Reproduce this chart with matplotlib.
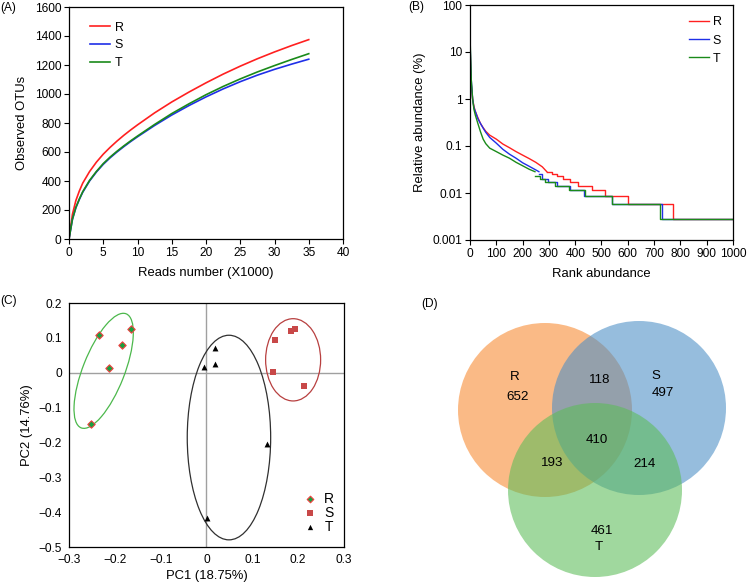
import numpy as np
import matplotlib
matplotlib.use("Agg")
import matplotlib.pyplot as plt
from matplotlib.patches import Ellipse, Circle
from matplotlib.transforms import Affine2D

plt.rcParams['font.family'] = ['Liberation Sans', 'DejaVu Sans']
plt.rcParams['font.size'] = 8.6
plt.rcParams['axes.linewidth'] = 0.9

# (A) rarefaction curves
reads_k = [0, 0.5, 1, 1.5, 2, 3, 4, 5, 6, 7, 8, 9, 10, 12.5, 15, 17.5, 20, 22.5, 25, 27.5, 30, 32.5, 35]
otu_R = [0, 170, 265, 330, 385, 465, 530, 585, 632, 675, 715, 752, 787, 870, 945, 1013, 1077, 1137, 1192, 1243, 1290, 1334, 1375]
otu_S = [0, 135, 215, 272, 322, 400, 462, 515, 560, 600, 637, 672, 705, 783, 855, 920, 980, 1035, 1085, 1130, 1170, 1206, 1240]
otu_T = [0, 137, 218, 275, 326, 404, 466, 520, 565, 605, 642, 677, 710, 790, 865, 932, 995, 1052, 1104, 1152, 1196, 1238, 1278]

# (B) rank abundance: smooth head, then quantized steps
head_rank_R = [1, 3, 5, 10, 15, 20, 30, 40, 50, 60, 75, 100, 125, 150, 175, 200, 225, 250, 275, 292]
head_val_R = [10, 4, 2, 1.0, 0.7, 0.55, 0.4, 0.3, 0.245, 0.205, 0.17, 0.14, 0.11, 0.092, 0.076, 0.064, 0.054, 0.045, 0.036, 0.0284]
step_rank_R = [292, 311, 330, 355, 380, 411, 463, 515, 602, 771, 1000]
step_val_R = [0.0284, 0.0256, 0.0227, 0.0199, 0.0170, 0.0142, 0.0114, 0.0085, 0.0057, 0.0028, 0.0028]

head_rank_S = [1, 3, 5, 10, 15, 20, 30, 40, 50, 60, 75, 100, 125, 150, 175, 200, 225, 250, 262]
head_val_S = [12, 5, 2.5, 1.0, 0.65, 0.55, 0.38, 0.3, 0.24, 0.195, 0.152, 0.115, 0.085, 0.067, 0.055, 0.044, 0.037, 0.031, 0.0284]
step_rank_S = [262, 273, 297, 330, 380, 434, 541, 729, 1000]
step_val_S = [0.0256, 0.0199, 0.0170, 0.0142, 0.0114, 0.0085, 0.0057, 0.0028, 0.0028]

head_rank_T = [1, 3, 5, 10, 15, 20, 30, 40, 50, 60, 75, 100, 125, 150, 175, 200, 225, 247]
head_val_T = [15, 6, 2.5, 1.0, 0.6, 0.46, 0.3, 0.2, 0.14, 0.112, 0.09, 0.076, 0.064, 0.055, 0.045, 0.038, 0.032, 0.0284]
step_rank_T = [247, 266, 285, 323, 376, 437, 541, 722, 1000]
step_val_T = [0.0227, 0.0199, 0.0170, 0.0142, 0.0114, 0.0085, 0.0057, 0.0028, 0.0028]

# (C) PCoA
pc_R_x = [-0.2345, -0.165, -0.184, -0.212, -0.253]
pc_R_y = [0.109, 0.124, 0.079, 0.014, -0.147]
pc_S_x = [0.150, 0.185, 0.192, 0.146, 0.213]
pc_S_y = [0.093, 0.119, 0.125, 0.002, -0.037]
pc_T_x = [0.0185, 0.019, -0.0055, 0.133, 0.002]
pc_T_y = [0.072, 0.026, 0.016, -0.205, -0.418]

# (D) Venn counts
venn_labels = ['R', 'S', 'T']
venn_only = [652, 497, 461]
venn_RS, venn_RT, venn_ST, venn_RST = 118, 193, 214, 410

W, H = 754, 588
fig = plt.figure(figsize=(W / 100, H / 100), dpi=100)


def rect(l, t, r, b):
    return [l / W, 1 - b / H, (r - l) / W, (b - t) / H]


red, blue, green = '#ff2020', '#1f2fe8', '#1a8a1a'
lab_fs = 9.4

# ---- (A)
axA = fig.add_axes(rect(69, 7, 343, 239))
axA.plot(reads_k, otu_R, color=red, lw=1.2, label='R')
axA.plot(reads_k, otu_S, color=blue, lw=1.2, label='S')
axA.plot(reads_k, otu_T, color=green, lw=1.2, label='T')
axA.set_xlim(0, 40)
axA.set_ylim(0, 1600)
axA.set_xticks(range(0, 41, 5))
axA.set_yticks(range(0, 1601, 200))
axA.tick_params(length=3.5, pad=2)
axA.set_xlabel('Reads number (X1000)', fontsize=lab_fs, labelpad=6)
axA.set_ylabel('Observed OTUs', fontsize=lab_fs, labelpad=5)
axA.legend(loc='upper left', frameon=False, fontsize=9, handlelength=1.6,
           handletextpad=0.4, labelspacing=0.45, bbox_to_anchor=(0.035, 0.985))

# ---- (B)
axB = fig.add_axes(rect(470, 5, 733, 240))
for hr, hv, sr, sv, c, lab in [
        (head_rank_R, head_val_R, step_rank_R, step_val_R, red, 'R'),
        (head_rank_S, head_val_S, step_rank_S, step_val_S, blue, 'S'),
        (head_rank_T, head_val_T, step_rank_T, step_val_T, green, 'T')]:
    axB.plot(hr, hv, color=c, lw=1.0, label=lab)
    axB.step(sr, sv, where='post', color=c, lw=1.0)
axB.set_yscale('log')
axB.set_xlim(0, 1000)
axB.set_ylim(0.001, 100)
axB.set_xticks(range(0, 1001, 100))
axB.set_yticks([0.001, 0.01, 0.1, 1, 10, 100])
axB.set_yticklabels(['0.001', '0.01', '0.1', '1', '10', '100'])
axB.minorticks_off()
axB.tick_params(length=3.5, pad=2)
axB.set_xlabel('Rank abundance', fontsize=lab_fs, labelpad=6)
axB.set_ylabel('Relative abundance (%)', fontsize=lab_fs, labelpad=5)
axB.legend(loc='upper right', frameon=False, fontsize=9, handlelength=1.6,
           handletextpad=0.3, labelspacing=0.5, borderaxespad=0.5)

# ---- (C)
axC = fig.add_axes(rect(69, 303, 344, 547))
axC.axhline(0, color='#a0a0a0', lw=1.0, zorder=0)
axC.axvline(0, color='#a0a0a0', lw=1.0, zorder=0)
axC.scatter(pc_R_x, pc_R_y, marker='D', s=14, color='#18a040', edgecolor='#f04040', lw=0.8, label='R', zorder=3)
axC.scatter(pc_S_x, pc_S_y, marker='s', s=20, color='#c84848', lw=0, label='S', zorder=3)
axC.scatter(pc_T_x, pc_T_y, marker='^', s=18, color='black', lw=0, label='T', zorder=3)
axC.set_xlim(-0.3, 0.3)
axC.set_ylim(-0.5, 0.2)
axC.set_xticks(np.arange(-0.3, 0.31, 0.1))
axC.set_yticks(np.arange(-0.5, 0.21, 0.1))
axC.set_xticklabels(['\u22120.3', '\u22120.2', '\u22120.1', '0', '0.1', '0.2', '0.3'])
axC.set_yticklabels(['\u22120.5', '\u22120.4', '\u22120.3', '\u22120.2', '\u22120.1', '0', '0.1', '0.2'])
axC.tick_params(length=0, pad=5)
axC.set_xlabel('PC1 (18.75%)', fontsize=lab_fs, labelpad=3)
axC.set_ylabel('PC2 (14.76%)', fontsize=lab_fs, labelpad=4)
# pixel aspect: y data per x data
k = (244 / 0.7) / (275 / 0.6)
ell_g = Ellipse((-0.2244, 0.0054 * k), 0.2675, 0.0908, angle=68.5, fill=False,
                ec='#4cb84c', lw=0.9, transform=Affine2D().scale(1, 1 / k) + axC.transData)
axC.add_patch(ell_g)
axC.add_patch(Ellipse((0.189, 0.037), 0.12, 0.236, fill=False, ec='#b84040', lw=0.9))
axC.add_patch(Ellipse((0.049, -0.186), 0.182, 0.587, fill=False, ec='#303030', lw=0.9))
axC.legend(loc='lower right', frameon=False, fontsize=10, handletextpad=0.0,
           labelspacing=0.0, borderaxespad=0.0, markerscale=0.9,
           bbox_to_anchor=(0.985, 0.03))

# ---- (D) Venn
axD = fig.add_axes([380 / W, 0, 374 / W, 298 / H])
axD.set_xlim(380, 754)
axD.set_ylim(588, 290)
axD.axis('off')
centers = [(545, 410), (639, 408), (595, 490)]
colors = ['#f8892f', '#4a8ec6', '#5cbc58']
for (cx, cy), col in zip(centers, colors):
    axD.add_patch(Circle((cx, cy), 87, color=col, alpha=0.58, lw=0))
fs = 9.6
axD.text(515, 377, venn_labels[0], fontsize=fs, ha='center', va='center')
axD.text(518, 397, str(venn_only[0]), fontsize=fs, ha='center', va='center')
axD.text(656, 376, venn_labels[1], fontsize=fs, ha='center', va='center')
axD.text(663, 393, str(venn_only[1]), fontsize=fs, ha='center', va='center')
axD.text(602, 531, str(venn_only[2]), fontsize=fs, ha='center', va='center')
axD.text(599, 547, venn_labels[2], fontsize=fs, ha='center', va='center')
axD.text(600, 380, str(venn_RS), fontsize=fs, ha='center', va='center')
axD.text(552, 463, str(venn_RT), fontsize=fs, ha='center', va='center')
axD.text(645, 464, str(venn_ST), fontsize=fs, ha='center', va='center')
axD.text(597, 440, str(venn_RST), fontsize=fs, ha='center', va='center')

# panel letters
for lab, x, y in [('(A)', 0, 8), ('(B)', 408, 7), ('(C)', 0, 301), ('(D)', 421, 304)]:
    fig.text(x / W, 1 - y / H, lab, fontsize=8.6, ha='left', va='center')

fig.savefig('out.png', dpi=100)
